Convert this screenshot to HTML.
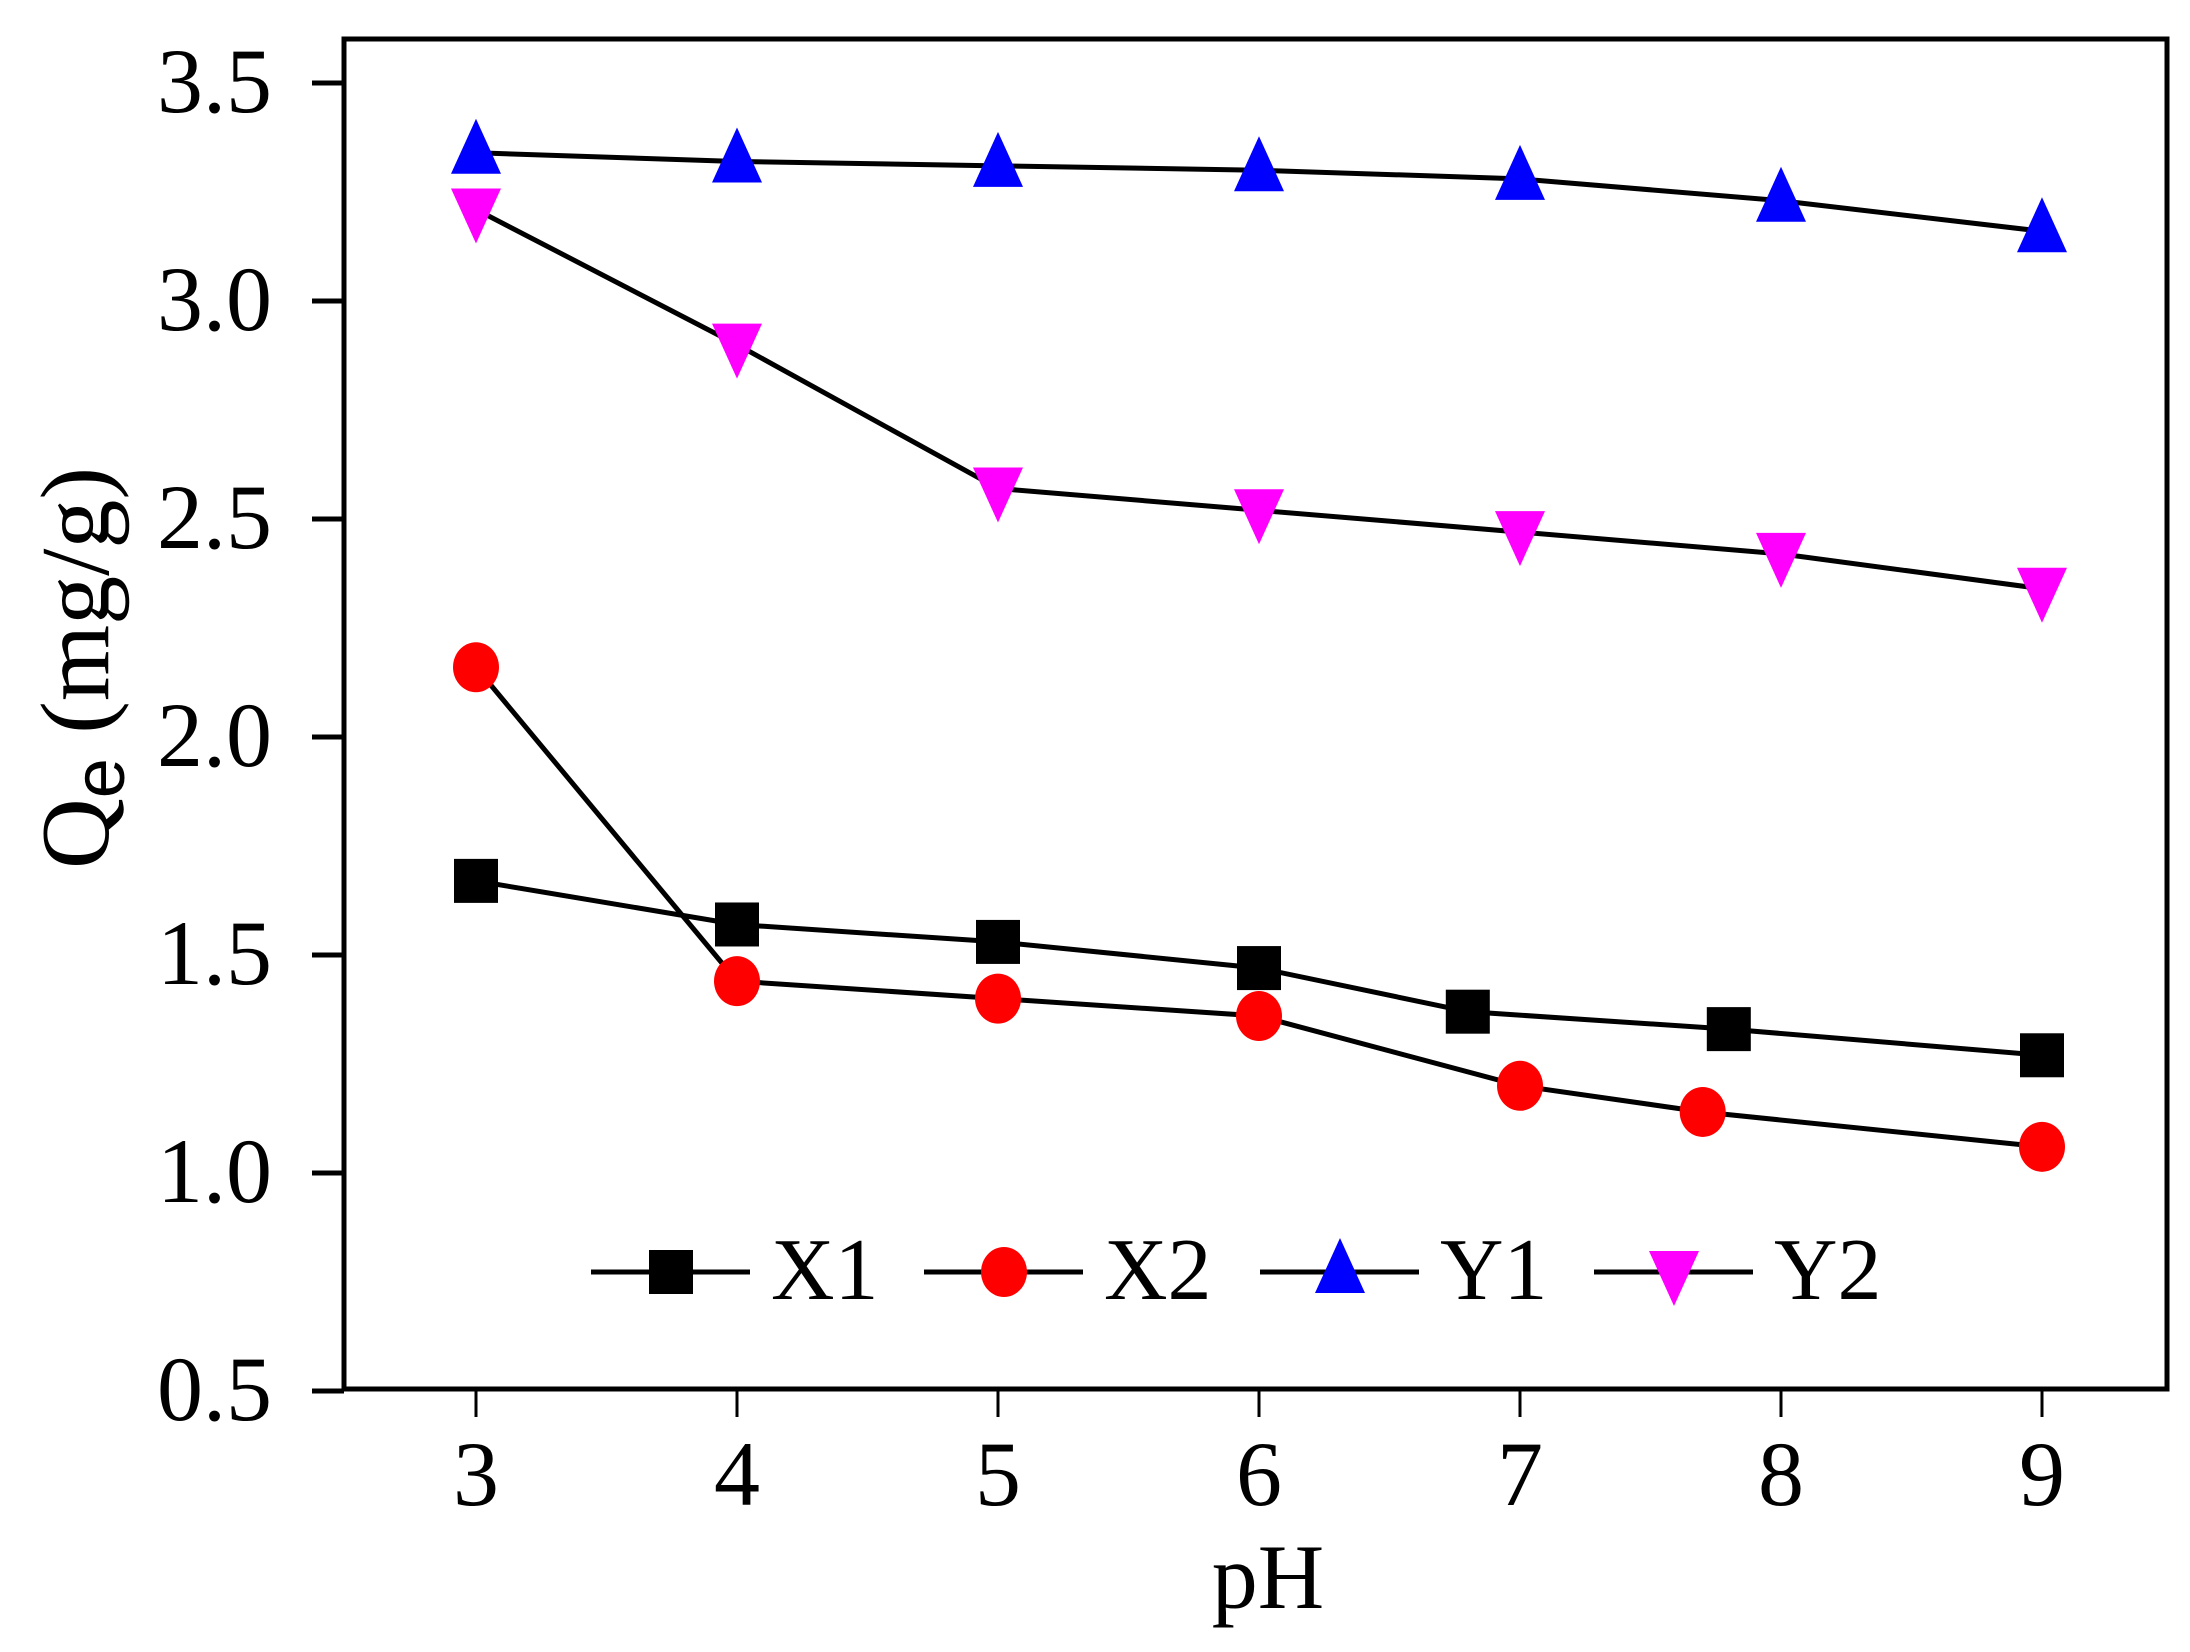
<!DOCTYPE html>
<html><head><meta charset="utf-8"><style>
html,body{margin:0;padding:0;background:#fff;}
svg{display:block;font-family:"Liberation Serif",serif;}
</style></head><body>
<svg id="chart" width="2190" height="1652" viewBox="0 0 2190 1652" xmlns="http://www.w3.org/2000/svg">
<rect x="344" y="39" width="1823" height="1350" fill="none" stroke="#000" stroke-width="5"/>
<g id="axes"></g>
<g id="series"></g>
<g id="legend"></g>
<text x="1268" y="1608" font-size="92" text-anchor="middle">pH</text>
<text transform="translate(108,668) rotate(-90)" font-size="98" text-anchor="middle">Q<tspan font-family="'Liberation Sans',sans-serif" font-size="72" dy="16">e</tspan><tspan dy="-16"> (mg/g)</tspan></text>
</svg>
<script>
const xTicks=[3,4,5,6,7,8,9];
const yTicks=[0.5,1.0,1.5,2.0,2.5,3.0,3.5];
const x1X=[3,4,5,6,6.8,7.8,9];
const x1Y=[1.67,1.57,1.53,1.47,1.37,1.33,1.27];
const x2X=[3,4,5,6,7,7.7,9];
const x2Y=[2.16,1.44,1.40,1.36,1.20,1.14,1.06];
const y1X=[3,4,5,6,7,8,9];
const y1Y=[3.34,3.32,3.31,3.30,3.28,3.23,3.16];
const y2X=[3,4,5,6,7,8,9];
const y2Y=[3.21,2.90,2.57,2.52,2.47,2.42,2.34];
const seriesNames=["X1","X2","Y1","Y2"];

const NS="http://www.w3.org/2000/svg";
const X=v=>476+(v-3)*261;
const Y=v=>1391-(v-0.5)*436;
function mk(tag,attrs,parent){const e=document.createElementNS(NS,tag);for(const k in attrs)e.setAttribute(k,attrs[k]);parent.appendChild(e);return e;}
const axes=document.getElementById('axes');
xTicks.forEach(t=>{
  const l=mk('line',{x1:X(t),x2:X(t),y1:1389,y2:1417,stroke:'#000','stroke-width':3},axes);
  
  
  const tx=mk('text',{x:X(t),y:1505,'font-size':92,'text-anchor':'middle'},axes);
  tx.textContent=t;
  
  
});
yTicks.forEach(t=>{
  const l=mk('line',{x1:312,x2:344,y1:Y(t),y2:Y(t),stroke:'#000','stroke-width':5},axes);
  
  
  const tx=mk('text',{x:272,y:Y(t)+29,'font-size':92,'text-anchor':'end'},axes);
  tx.textContent=t.toFixed(1);
  
  
});
function marker(kind,cx,cy,parent){
  let e;
  if(kind==='square')e=mk('rect',{x:cx-22,y:cy-22,width:44,height:44,fill:'#000'},parent);
  else if(kind==='circle')e=mk('ellipse',{cx:cx,cy:cy,rx:23,ry:25,fill:'#ff0000'},parent);
  else if(kind==='up')e=mk('polygon',{points:`${cx},${cy-34} ${cx+25},${cy+21} ${cx-25},${cy+21}`,fill:'#0000ff'},parent);
  else e=mk('polygon',{points:`${cx-25},${cy-21} ${cx+25},${cy-21} ${cx},${cy+34}`,fill:'#ff00ff'},parent);
  return e;
}
const ser=document.getElementById('series');
const all=[[x1X,x1Y,'square'],[x2X,x2Y,'circle'],[y1X,y1Y,'up'],[y2X,y2Y,'down']];
all.forEach((s,i)=>{
  const g=mk('g',{},ser);
  
  
  const pl=mk('polyline',{points:s[0].map((x,j)=>X(x)+','+Y(s[1][j])).join(' '),fill:'none',stroke:'#000','stroke-width':5},g);
  
  
  s[0].forEach((x,j)=>{
    const m=marker(s[2],X(x),Y(s[1][j]),g);
    
    
  });
});
const leg=document.getElementById('legend');
const lx=[591,924,1260,1594];
all.forEach((s,i)=>{
  const g=mk('g',{},leg);
  
  
  mk('line',{x1:lx[i],x2:lx[i]+159,y1:1272,y2:1272,stroke:'#000','stroke-width':5},g);
  marker(s[2],lx[i]+80,1272,g);
  const t=mk('text',{x:lx[i]+180,y:1299,'font-size':88},g);
  t.textContent=seriesNames[i];
});
</script>
</body></html>
